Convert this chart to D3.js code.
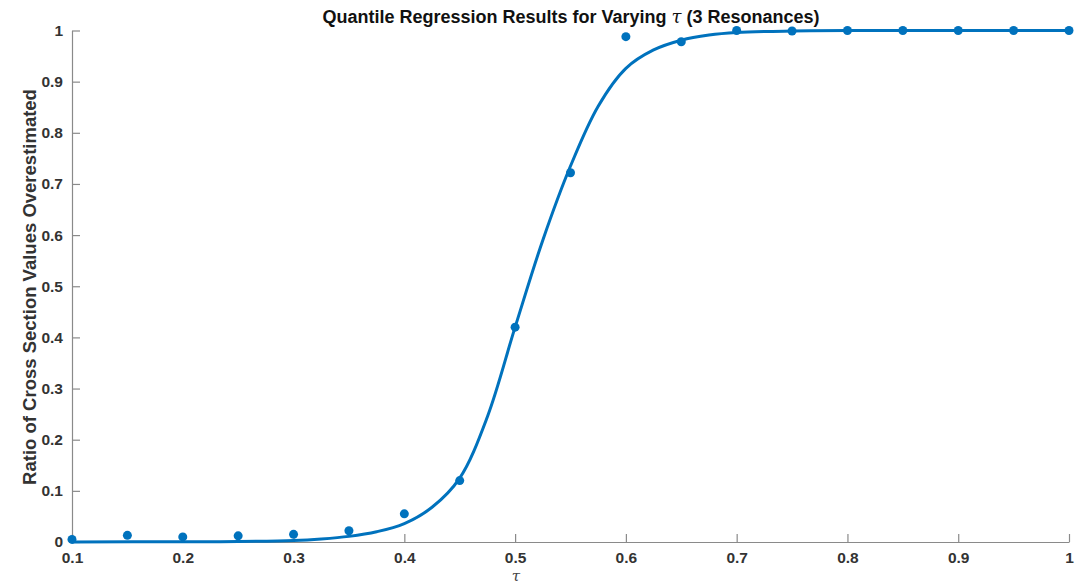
<!DOCTYPE html>
<html><head><meta charset="utf-8">
<script src="https://cdn.jsdelivr.net/npm/d3@7"></script>
<style>body{margin:0;background:#fff}svg{display:block}</style>
</head><body>
<svg id="c" width="1086" height="586"></svg>
<script>
const tauPoints = [0.1,0.15,0.2,0.25,0.3,0.35,0.4,0.45,0.5,0.55,0.6,0.65,0.7,0.75,0.8,0.85,0.9,0.95,1.0];
const ratioPoints = [0.005,0.013,0.010,0.012,0.015,0.022,0.055,0.120,0.420,0.722,0.988,0.978,1.0,0.999,1.0,1.0,1.0,1.0,1.0];
const tauCurve = [0.1,0.2,0.25,0.3,0.325,0.35,0.375,0.4,0.425,0.45,0.475,0.5,0.525,0.55,0.575,0.6,0.625,0.65,0.675,0.7,0.75,0.8,0.9,1.0];
const ratioCurve = [0,0.0005,0.001,0.003,0.006,0.011,0.02,0.036,0.068,0.125,0.245,0.42,0.59,0.735,0.852,0.926,0.962,0.981,0.991,0.996,0.999,1,1,1];
const xTicks = [0.1,0.2,0.3,0.4,0.5,0.6,0.7,0.8,0.9,1];
const yTicks = [0,0.1,0.2,0.3,0.4,0.5,0.6,0.7,0.8,0.9,1];

const svg = d3.select('#c');
const x = d3.scaleLinear().domain([0.1,1]).range([72,1069]);
const y = d3.scaleLinear().domain([0,1]).range([542,30.5]);
const font = "'Liberation Sans', Arial, sans-serif";
const axisColor = '#8a8a8a';

const xa = svg.append('g').attr('transform','translate(0,542)')
  .call(d3.axisBottom(x).tickValues(xTicks).tickFormat(d3.format('')).tickSizeInner(-8).tickSizeOuter(0).tickPadding(10));
const ya = svg.append('g').attr('transform','translate(72,0)')
  .call(d3.axisLeft(y).tickValues(yTicks).tickFormat(d3.format('')).tickSizeInner(-8).tickSizeOuter(0).tickPadding(9));
[xa,ya].forEach(g=>{
  g.selectAll('path,line').attr('stroke',axisColor).attr('stroke-width',1.2);
  g.selectAll('text').attr('fill','#333').attr('font-family',font).attr('font-weight','bold').attr('font-size',15.5);
});

const line = d3.line().x((d,i)=>x(tauCurve[i])).y(d=>y(d)).curve(d3.curveCatmullRom.alpha(0.5));
svg.append('path').datum(ratioCurve).attr('d',line).attr('fill','none')
  .attr('stroke','#0072BD').attr('stroke-width',3);

svg.append('g').selectAll('circle').data(ratioPoints).join('circle')
  .attr('cx',(d,i)=>x(tauPoints[i])).attr('cy',d=>y(d)).attr('r',4.5).attr('fill','#0072BD');

const t = svg.append('text').attr('x',571).attr('y',23).attr('text-anchor','middle')
  .attr('font-family',font).attr('font-weight','bold').attr('font-size',18).attr('fill','#111');
t.append('tspan').text('Quantile Regression Results for Varying ');
t.append('tspan').attr('font-family',"'DejaVu Serif', serif").attr('font-style','italic').attr('font-weight','normal').text('τ');
t.append('tspan').text(' (3 Resonances)');

svg.append('text').attr('x',516).attr('y',581).attr('text-anchor','middle')
  .attr('font-family',"'DejaVu Serif', serif").attr('font-style','italic').attr('font-size',15).attr('fill','#444').text('τ');

svg.append('text').attr('transform','translate(36,287) rotate(-90)').attr('text-anchor','middle')
  .attr('font-family',font).attr('font-weight','bold').attr('font-size',18.5).attr('fill','#333')
  .text('Ratio of Cross Section Values Overestimated');
</script>
</body></html>
